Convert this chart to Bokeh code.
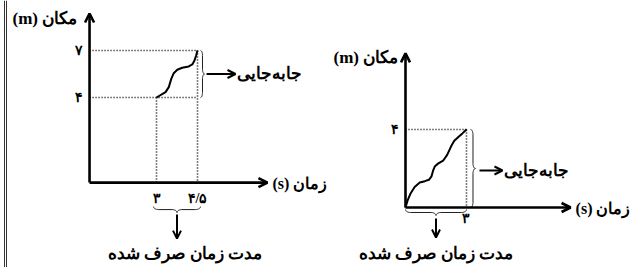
import numpy as np
from bokeh.plotting import figure
from bokeh.layouts import row
from bokeh.models import Arrow, OpenHead
from bokeh.core.properties import value
from bokeh.embed import file_html
from bokeh.resources import INLINE

# ---------------- data ----------------
# left graph: position (m) vs time (s)
L_CURVE_T = [3.0, 3.33, 3.45, 3.54, 3.63, 3.76, 3.94, 4.18, 4.31, 4.39, 4.45, 4.5]
L_CURVE_X = [4.0, 4.34, 4.66, 5.19, 5.55, 5.77, 5.90, 5.98, 6.11, 6.36, 6.68, 7.0]
L_T_TICKS = [3.0, 4.5]
L_T_LABELS = ["۳", "۴/۵"]
L_X_TICKS = [4.0, 7.0]
L_X_LABELS = ["۴", "۷"]

# right graph
R_CURVE_T = [0.0, 0.1, 0.25, 0.45, 0.7, 0.95, 1.15, 1.28, 1.36, 1.45, 1.6, 1.85,
             2.05, 2.25, 2.4, 2.6, 2.8, 3.0]
R_CURVE_X = [0.0, 0.35, 0.72, 1.05, 1.28, 1.35, 1.42, 1.6, 1.9, 2.12, 2.25, 2.4,
             2.7, 3.15, 3.42, 3.62, 3.8, 4.0]
R_T_TICKS = [3.0]
R_T_LABELS = ["۳"]
R_X_TICKS = [4.0]
R_X_LABELS = ["۴"]

LRI, PDI = "\u2066", "\u2069"
Y_LABEL = LRI + "(m) مکان" + PDI
X_LABEL = LRI + "(s) زمان" + PDI
DISP_LABEL = "جابه\u200cجایی"
DUR_LABEL = "مدت زمان صرف شده"

FONT = value("Liberation Serif")
INK = "#000000"


# ---------------- helpers ----------------
def make_fig(w, h, xr, yr):
    p = figure(width=w, height=h, x_range=xr, y_range=yr,
               output_backend="svg", toolbar_location=None, min_border=0,
               x_axis_location=None, y_axis_location=None)
    p.grid.visible = False
    p.outline_line_color = None
    p.background_fill_color = "white"
    p.border_fill_color = "white"
    return p


def brace_shape(length, depth, r=5.0):
    r = min(r, length / 4.0)
    c = length / 2.0
    th = np.linspace(0, np.pi / 2, 12)
    t1 = r * (1 - np.cos(th))
    u1 = depth / 2 * np.sin(th)
    t2 = c - r + r * np.sin(th)
    u2 = depth / 2 + depth / 2 * (1 - np.cos(th))
    t = np.concatenate([t1, t2, length - t2[::-1], length - t1[::-1]])
    u = np.concatenate([u1, u2, u2[::-1], u1[::-1]])
    return t, u


def scales(p, w, h):
    sx = w / (p.x_range.end - p.x_range.start)
    sy = h / (p.y_range.end - p.y_range.start)
    return sx, sy


def vbrace(p, sx, sy, x_base, y_top, y_bot, depth):
    L = (y_top - y_bot) * sy
    t, u = brace_shape(L, depth)
    p.line(x_base + u / sx, y_top - t / sy, line_color="#222222", line_width=1)


def hbrace(p, sx, sy, x_left, x_right, y_base, depth):
    L = (x_right - x_left) * sx
    t, u = brace_shape(L, depth)
    p.line(x_left + t / sx, y_base - u / sy, line_color="#222222", line_width=1)


def arrow(p, x0, y0, x1, y1, lw, size):
    p.add_layout(Arrow(end=OpenHead(size=size, line_width=lw, line_color=INK),
                       x_start=x0, y_start=y0, x_end=x1, y_end=y1,
                       line_width=lw, line_color=INK))


def txt(p, x, y, s, size, align="center", baseline="middle", xo=0, yo=0):
    p.text(x=[x], y=[y], text=[s], text_font=FONT, text_font_style="bold",
           text_font_size=size, text_align=align, text_baseline=baseline,
           x_offset=xo, y_offset=yo, text_color=INK)


DOT = dict(line_color=INK, line_width=1.6, line_dash="1 2")

# ---------------- left graph ----------------
LW, LH = 331, 267
pl = make_fig(LW, LH, (-2.708, 9.403), (-6.849, 10.19))
sx, sy = scales(pl, LW, LH)
L_T0, L_X0 = 0.55, -1.43          # where the axes cross
L_T_END, L_X_END = 7.06, 9.36      # arrow tips

# page border (double line)
bx = [pl.x_range.start + 4 / sx, pl.x_range.start + 6 / sx]
pl.segment(x0=bx, y0=[pl.y_range.start] * 2, x1=bx, y1=[pl.y_range.end] * 2,
           line_color="#333333", line_width=1)

# dotted guides
t_lo, t_hi = L_T_TICKS
x_lo, x_hi = L_X_TICKS
pl.segment(x0=[L_T0, L_T0], y0=[x_lo, x_hi], x1=[t_hi, t_hi], y1=[x_lo, x_hi], **DOT)
pl.segment(x0=[t_lo, t_hi], y0=[x_lo, x_hi], x1=[t_lo, t_hi], y1=[L_X0, L_X0], **DOT)

# axes
arrow(pl, L_T0, L_X0, L_T0, L_X_END, 2.6, 9)
arrow(pl, L_T0, L_X0, L_T_END, L_X0, 2.6, 9)

# curve
pl.line(L_CURVE_T, L_CURVE_X, line_color=INK, line_width=2, line_join="round")

# tick labels
for v, s in zip(L_X_TICKS, L_X_LABELS):
    txt(pl, L_T0, v, s, "14px", align="right", xo=-7)
for v, s in zip(L_T_TICKS, L_T_LABELS):
    txt(pl, v, L_X0, s, "14px", baseline="top", yo=8)

# axis labels
txt(pl, L_T0, L_X_END, Y_LABEL, "17px", align="left", xo=-77, yo=5)
txt(pl, L_T_END, L_X0, X_LABEL, "16px", align="left", xo=5, yo=1)

# displacement brace + arrow
vbrace(pl, sx, sy, t_hi + 3 / sx, x_hi, x_lo, 4)
xm = (x_lo + x_hi) / 2
arrow(pl, t_hi + 9 / sx, xm, t_hi + 38 / sx, xm, 2, 8)
txt(pl, t_hi + 40 / sx, xm, DISP_LABEL, "17px", align="left")

# elapsed-time brace + arrow
hbrace(pl, sx, sy, t_lo - 3 / sx, t_hi + 3 / sx, L_X0 - 24 / sy, 6)
tm = (t_lo + t_hi) / 2
arrow(pl, tm, L_X0 - 32 / sy, tm, L_X0 - 56 / sy, 2, 8)
txt(pl, tm, L_X0 - 71 / sy, DUR_LABEL, "17px", xo=8)

# ---------------- right graph ----------------
RW, RH = 301, 267
pr = make_fig(RW, RH, (-3.64, 11.166), (-3.077, 10.615))
sx, sy = scales(pr, RW, RH)
R_T0, R_X0 = 0.0, 0.0
R_T_END, R_X_END = 8.12, 7.9

t_hi = R_T_TICKS[0]
x_hi = R_X_TICKS[0]
pr.segment(x0=[R_T0], y0=[x_hi], x1=[t_hi], y1=[x_hi], **DOT)
pr.segment(x0=[t_hi], y0=[x_hi], x1=[t_hi], y1=[R_X0], **DOT)

arrow(pr, R_T0, R_X0, R_T0, R_X_END, 2.6, 9)
arrow(pr, R_T0, R_X0, R_T_END, R_X0, 2.6, 9)

pr.line(R_CURVE_T, R_CURVE_X, line_color=INK, line_width=2, line_join="round")

for v, s in zip(R_X_TICKS, R_X_LABELS):
    txt(pr, R_T0, v, s, "14px", align="right", xo=-6)
for v, s in zip(R_T_TICKS, R_T_LABELS):
    txt(pr, v, R_X0, s, "14px", baseline="top", yo=4)

txt(pr, R_T0, R_X_END, Y_LABEL, "17px", align="left", xo=-72, yo=4)
txt(pr, R_T_END, R_X0, X_LABEL, "16px", align="left", xo=5, yo=1)

vbrace(pr, sx, sy, t_hi + 4 / sx, x_hi, R_X0, 5)
xm = (R_X0 + x_hi) / 2
arrow(pr, t_hi + 13 / sx, xm - 2 / sy, t_hi + 36 / sx, xm - 2 / sy, 2, 8)
txt(pr, t_hi + 38 / sx, xm - 2 / sy, DISP_LABEL, "17px", align="left")

hbrace(pr, sx, sy, R_T0, t_hi, R_X0 - 2 / sy, 6)
tm = (R_T0 + t_hi) / 2
arrow(pr, tm, R_X0 - 11 / sy, tm, R_X0 - 30 / sy, 2, 8)
txt(pr, tm, R_X0 - 46 / sy, DUR_LABEL, "17px")

layout = row(pl, pr, spacing=0)
open("out.html", "w").write(file_html(layout, INLINE))
